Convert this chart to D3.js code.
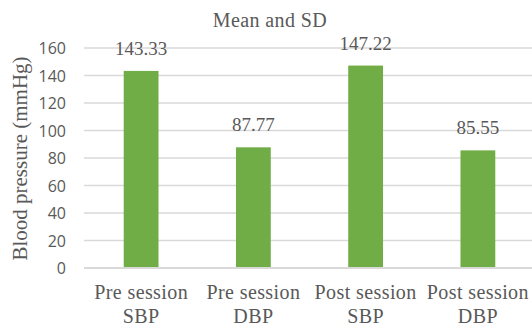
<!DOCTYPE html>
<html>
<head>
<meta charset="utf-8">
<script src="https://cdn.jsdelivr.net/npm/d3@7"></script>
<style>
  html, body { margin: 0; padding: 0; background: #fff; }
  svg { display: block; }
</style>
</head>
<body>
<svg id="chart" width="532" height="327"></svg>
<script>
// Blood pressure means by session and measure
const categories = [["Pre session", "SBP"], ["Pre session", "DBP"], ["Post session", "SBP"], ["Post session", "DBP"]];
const values = [143.33, 87.77, 147.22, 85.55];
const yTicks = [0, 20, 40, 60, 80, 100, 120, 140, 160];
const titleText = "Mean and SD";
const yTitle = "Blood pressure (mmHg)";

const svg = d3.select("#chart");
const serif = "'Liberation Serif', 'Times New Roman', serif";
const sans = "'Open Sans', 'Noto Sans', sans-serif";
const textColor = "#595959";

const keys = categories.map(c => c.join(" "));
const x = d3.scaleBand().domain(keys).range([85, 534]).paddingInner(0.69).paddingOuter(0.345);
const y = d3.scaleLinear().domain([0, 160]).range([268, 48]);

// gridlines
svg.append("g").selectAll("line")
  .data(yTicks.filter(t => t > 0))
  .join("line")
  .attr("x1", 84).attr("x2", 532)
  .attr("y1", d => y(d)).attr("y2", d => y(d))
  .attr("stroke", "#d9d9d9").attr("stroke-width", 1.3);

// bars
svg.append("g").selectAll("rect")
  .data(values)
  .join("rect")
  .attr("x", (d, i) => x(keys[i]))
  .attr("width", x.bandwidth())
  .attr("y", d => y(d))
  .attr("height", d => y(0) - y(d))
  .attr("fill", "#70ad47");

// baseline
svg.append("line")
  .attr("x1", 84).attr("x2", 532)
  .attr("y1", y(0)).attr("y2", y(0))
  .attr("stroke", "#d9d9d9").attr("stroke-width", 2);

// y axis tick labels
const yAxis = d3.axisLeft(y).tickValues(yTicks).tickSize(0).tickPadding(0);
const gy = svg.append("g").attr("transform", "translate(66,0)").call(yAxis);
gy.select(".domain").remove();
gy.selectAll("text")
  .attr("font-family", sans).attr("font-size", 16).attr("fill", textColor)
  .attr("dy", "0.36em");

// value labels
svg.append("g").selectAll("text")
  .data(values)
  .join("text")
  .attr("x", (d, i) => x(keys[i]) + x.bandwidth() / 2)
  .attr("y", d => y(d) - 16)
  .attr("text-anchor", "middle")
  .attr("font-family", serif).attr("font-size", 19).attr("fill", textColor)
  .text(d => d.toFixed(2));

// category labels (two lines)
const cat = svg.append("g").selectAll("text")
  .data(categories)
  .join("text")
  .attr("text-anchor", "middle")
  .attr("font-family", serif).attr("font-size", 20).attr("fill", textColor)
  .attr("letter-spacing", 0.4);
cat.each(function(d, i) {
  const cx = x(keys[i]) + x.bandwidth() / 2;
  d3.select(this).selectAll("tspan").data(d).join("tspan")
    .attr("x", cx).attr("y", (t, j) => 299 + j * 23.5)
    .text(t => t);
});

// chart title
svg.append("text")
  .attr("x", 270).attr("y", 26.5)
  .attr("text-anchor", "middle")
  .attr("font-family", serif).attr("font-size", 20).attr("fill", textColor)
  .attr("letter-spacing", 0.4)
  .text(titleText);

// y axis title
svg.append("text")
  .attr("transform", "translate(26.5,158.5) rotate(-90)")
  .attr("text-anchor", "middle")
  .attr("font-family", serif).attr("font-size", 21).attr("fill", textColor)
  .text(yTitle);
</script>
</body>
</html>
